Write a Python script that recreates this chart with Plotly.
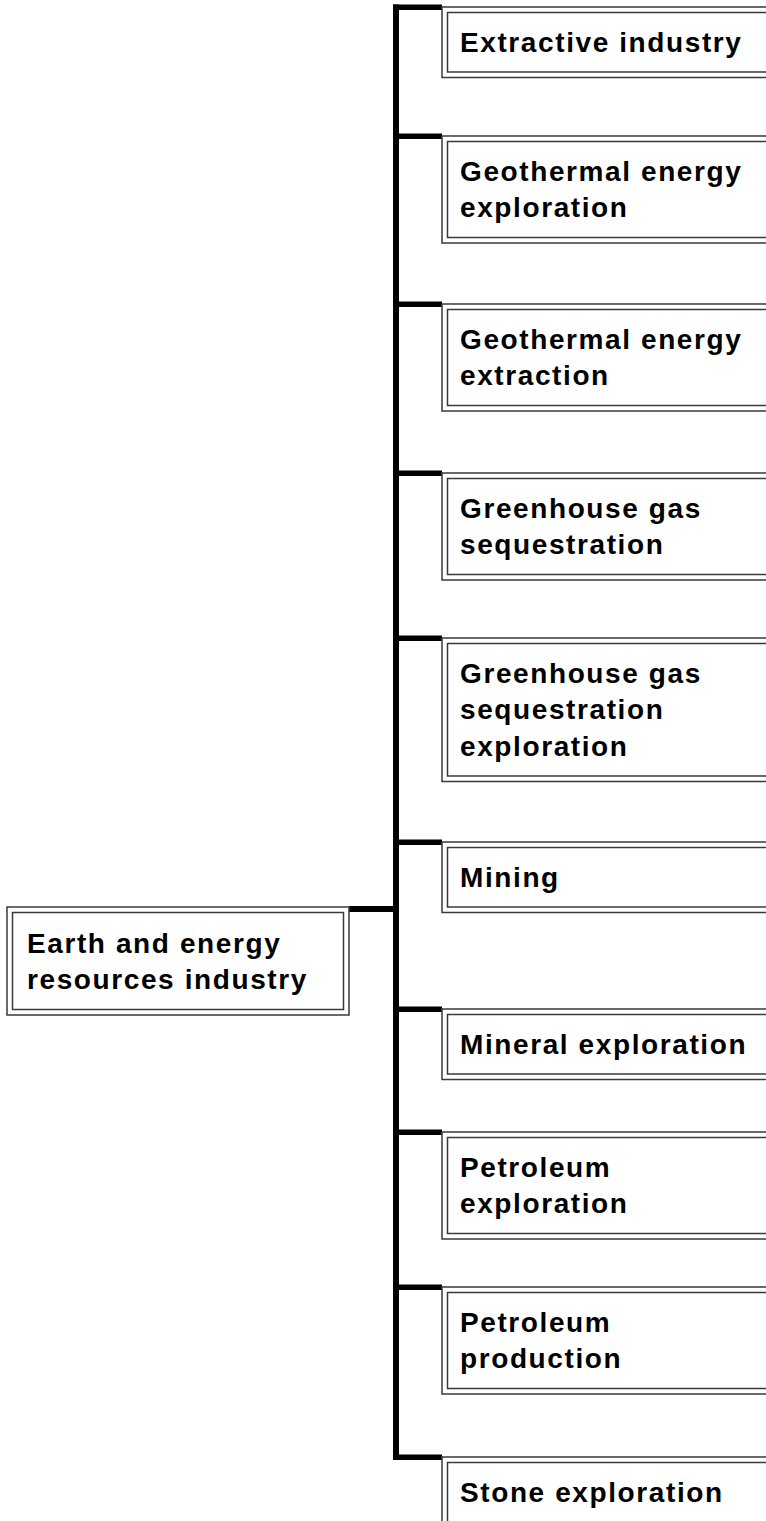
import plotly.graph_objects as go

# ---- data ----
root_label = "Earth and energy<br>resources industry"
child_labels = [
    "Extractive industry",
    "Geothermal energy<br>exploration",
    "Geothermal energy<br>extraction",
    "Greenhouse gas<br>sequestration",
    "Greenhouse gas<br>sequestration<br>exploration",
    "Mining",
    "Mineral exploration",
    "Petroleum<br>exploration",
    "Petroleum<br>production",
    "Stone exploration",
]

# ---- layout parameters (pixels) ----
W, H = 766, 1521
child_tops = [7, 136, 304, 473, 638, 842, 1009, 1132, 1287, 1457]
BOX_PAD = 34
LINE_H = 36.5
child_x0 = 442
child_x1 = 820
trunk_x0, trunk_x1 = 393, 399
root_box = dict(x0=7, x1=349, y0=907, y1=1015)
INSET = 5.5
EDGE = "#3a3a3a"
FONT = dict(family="Liberation Sans, Arial, sans-serif", size=28, color="#000000", weight="bold")

fig = go.Figure()
shapes = []
annotations = []


def double_box(x0, y0, x1, y1):
    shapes.append(dict(type="rect", xref="x", yref="y", x0=x0, y0=y0, x1=x1, y1=y1,
                       line=dict(color=EDGE, width=1.5), fillcolor="white", layer="above"))
    shapes.append(dict(type="rect", xref="x", yref="y", x0=x0 + INSET, y0=y0 + INSET,
                       x1=x1 - INSET, y1=y1 - INSET,
                       line=dict(color=EDGE, width=1.5), fillcolor="rgba(0,0,0,0)", layer="above"))


def bar(x0, y0, x1, y1):
    shapes.append(dict(type="rect", xref="x", yref="y", x0=x0, y0=y0, x1=x1, y1=y1,
                       line=dict(width=0), fillcolor="black", layer="above"))


# trunk
bar(trunk_x0, child_tops[0] - 2.5, trunk_x1, child_tops[-1] + 3)

# children
for label, top in zip(child_labels, child_tops):
    n = label.count("<br>") + 1
    h = BOX_PAD + LINE_H * n
    bar(trunk_x0, top - 2.5, child_x0, top + 3)
    double_box(child_x0, top, child_x1, top + h)
    annotations.append(dict(x=child_x0 + INSET + 10, y=top + h / 2, xref="x", yref="y",
                            text=label, showarrow=False, xanchor="left", yanchor="middle",
                            align="left", font=FONT))

# root
bar(root_box["x1"], root_box["y0"] - 1, trunk_x0, root_box["y0"] + 5)
double_box(root_box["x0"], root_box["y0"], root_box["x1"], root_box["y1"])
annotations.append(dict(x=root_box["x0"] + INSET + 12, y=(root_box["y0"] + root_box["y1"]) / 2,
                        xref="x", yref="y", text=root_label, showarrow=False,
                        xanchor="left", yanchor="middle", align="left", font=FONT))

fig.update_layout(
    width=W, height=H,
    margin=dict(l=0, r=0, t=0, b=0),
    paper_bgcolor="white", plot_bgcolor="white",
    xaxis=dict(range=[0, W], visible=False, fixedrange=True),
    yaxis=dict(range=[H, 0], visible=False, fixedrange=True),
    shapes=shapes, annotations=annotations, showlegend=False,
)

post = """
document.documentElement.style.margin = '0';
document.documentElement.style.overflow = 'hidden';
document.body.style.margin = '0';
document.body.style.padding = '0';
document.body.style.overflow = 'hidden';
var gd = document.getElementById('{plot_id}');
function ls(){ gd.querySelectorAll('.annotation-text').forEach(function(t){ t.style.letterSpacing = '1.6px'; }); }
ls();
if (gd.on) { gd.on('plotly_afterplot', ls); }
"""
fig.write_html("out.html", config={"displayModeBar": False}, post_script=post)
